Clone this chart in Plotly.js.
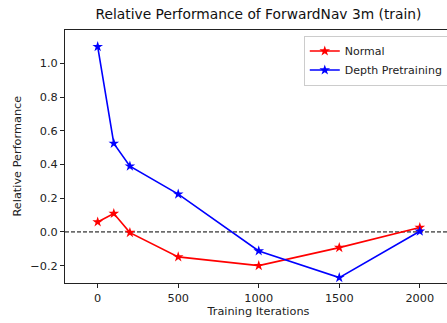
<!DOCTYPE html>
<html><head><meta charset="utf-8">
<script src="https://cdn.plot.ly/plotly-3.0.1.min.js"></script>
<style>html,body{margin:0;padding:0;overflow:hidden;background:#fff;width:447px;height:323px}</style>
</head><body><div id="chart"></div>
<script>
const iterations = [0, 100, 200, 500, 1000, 1500, 2000];
const normal = [0.059, 0.109, -0.004, -0.148, -0.200, -0.093, 0.026];
const depthPretraining = [1.099, 0.525, 0.390, 0.224, -0.113, -0.271, 0.004];
const yTicks = [-0.2, 0.0, 0.2, 0.4, 0.6, 0.8, 1.0];
const xTicks = [0, 500, 1000, 1500, 2000];

const font = {family: 'DejaVu Sans', size: 11.3, color: '#222'};
const traces = [
  {x: iterations, y: normal, name: 'Normal', mode: 'lines+markers',
   line: {color: 'red', width: 1.6}, marker: {symbol: 'star', size: 8, color: 'red'}},
  {x: iterations, y: depthPretraining, name: 'Depth Pretraining', mode: 'lines+markers',
   line: {color: 'blue', width: 1.6}, marker: {symbol: 'star', size: 8, color: 'blue'}}
];
const layout = {
  width: 462, height: 323,
  margin: {l: 65, r: 10, t: 30, b: 40},
  paper_bgcolor: '#fff', plot_bgcolor: '#fff',
  font: font,
  showlegend: true,
  title: {text: 'Relative Performance of ForwardNav 3m (train)', font: {family: 'DejaVu Sans', size: 13.8, color: '#111'},
          x: 0.5, xref: 'paper', xanchor: 'center', y: 1, yref: 'container', yanchor: 'top', pad: {t: 9}},
  xaxis: {range: [-203, 2200], tickvals: xTicks, ticktext: xTicks.map(String), showgrid: false, zeroline: false,
          showline: true, mirror: true, linecolor: '#222', linewidth: 1, ticks: 'outside', ticklen: 4, tickcolor: '#222',
          tickfont: font, title: {text: 'Training Iterations', font: font, standoff: 3}},
  yaxis: {range: [-0.303, 1.198], tickvals: yTicks, tickformat: '.1f', showgrid: false, zeroline: false,
          showline: true, mirror: true, linecolor: '#222', linewidth: 1, ticks: 'outside', ticklen: 4, tickcolor: '#222',
          tickfont: font},
  annotations: [{text: 'Relative Performance', textangle: -90, xref: 'paper', yref: 'paper',
                 x: -0.124, y: 0.5, xanchor: 'center', yanchor: 'middle', showarrow: false, font: font}],
  legend: {x: 0.617, y: 0.978, xanchor: 'left', yanchor: 'top', bordercolor: '#ccc', borderwidth: 1,
           bgcolor: 'rgba(255,255,255,0.8)', font: {family: 'DejaVu Sans', size: 11, color: '#222'},
           tracegroupgap: 0, itemwidth: 30},
  shapes: [{type: 'line', xref: 'paper', x0: 0, x1: 1, yref: 'y', y0: 0, y1: 0,
            line: {color: '#000', width: 1, dash: '4px,2px'}, layer: 'below'}]
};
Plotly.newPlot('chart', traces, layout, {displayModeBar: false, staticPlot: true});
</script></body></html>
